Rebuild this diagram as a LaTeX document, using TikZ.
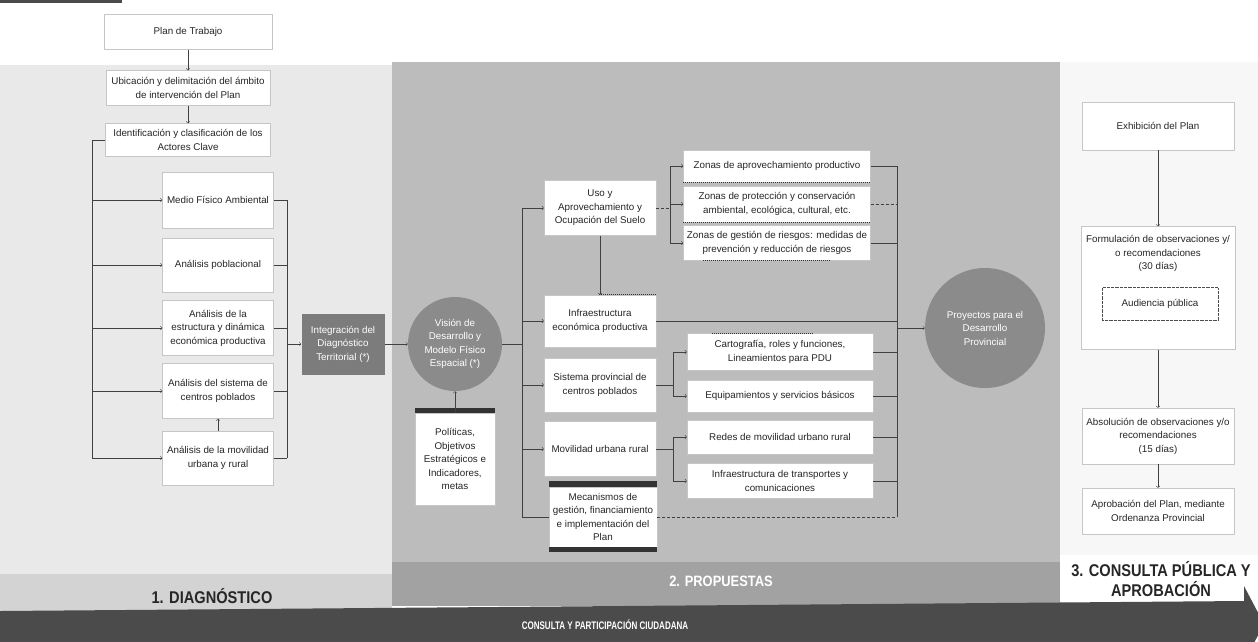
\documentclass[tikz,border=0pt]{standalone}
\usepackage{fontspec}
\setmainfont{Liberation Sans}
\usepackage{xcolor}
\usepackage{tikz}
\usetikzlibrary{positioning}
\definecolor{fondoDiag}{HTML}{E9E9E9}
\definecolor{fondoProp}{HTML}{BCBCBC}
\definecolor{fondoCons}{HTML}{F7F7F7}
\definecolor{bandaDiag}{HTML}{D3D3D3}
\definecolor{bandaProp}{HTML}{A2A2A2}
\definecolor{cajaOscura}{HTML}{7C7C7C}
\definecolor{circuloGris}{HTML}{8B8B8B}
\definecolor{flechaFondo}{HTML}{4B4B4B}
\newcommand\letra{\fontsize{9.8}{13.5}\selectfont}
\newcommand\titular[1]{\fontsize{#1}{#1}\selectfont\bfseries}

\begin{document}
\begin{tikzpicture}[x=1pt, y=-1pt,
	caja/.style={draw=gray!45, line width=0.3pt, fill=white, align=center, inner sep=1pt, text=black!85, font=\letra},
	oscura/.style={fill=cajaOscura, align=center, inner sep=1pt, text=white, font=\letra},
	circulo/.style={circle, fill=circuloGris, align=center, inner sep=1pt, text=white, font=\letra},
	texto/.style={align=center, inner sep=0pt, text=black!85, font=\letra},
	titulo/.style={align=center, inner sep=0pt, xscale=0.86, text=black!85},
	linea/.style={draw=black!75, line width=0.5pt},
	flecha/.style={linea, ->},
	barra/.style={fill=black!80},
	puntos/.style={draw=black!80, line width=1pt, densely dotted}]
	\useasboundingbox (0,0) rectangle (1258,641);
	\clip (0,0) rectangle (1258,641);
	\fill[white] (0,0) rectangle (1258,641);
	\fill[fondoDiag] (0,65) rectangle (392,612);
	\fill[fondoProp] (392,62) rectangle (1060,606);
	\fill[fondoCons] (1060,62) rectangle (1258,604);
	\fill[bandaDiag] (0,574) rectangle (392,612);
	\fill[bandaProp] (392,562) rectangle (1060,606);
	\fill[white] (1060,555) rectangle (1258,604);
	\fill[flechaFondo] (0,0) rectangle (122,3);
	\fill[flechaFondo] (0,611) -- (1244,601) -- (1244,586) -- (1264,624) -- (1244,662) -- (0,662) -- cycle;

	\node[caja, minimum width=168, minimum height=35] (plan) at (188,32) {Plan de Trabajo};
	\node[caja, minimum width=164, minimum height=35] (ubica) at (188,88) {Ubicación y delimitación del ámbito\\de intervención del Plan};
	\node[caja, minimum width=165, minimum height=33] (ident) at (188,140) {Identificación y clasificación de los\\Actores Clave};
	\node[caja, minimum width=111, minimum height=56] (medio) at (218,200) {Medio Físico Ambiental};
	\node[caja, minimum width=111, minimum height=54] (pobla) at (218,265) {Análisis poblacional};
	\node[caja, minimum width=111, minimum height=55] (estru) at (218,328) {Análisis de la\\estructura y dinámica\\económica productiva};
	\node[caja, minimum width=111, minimum height=55] (siste) at (218,391) {Análisis del sistema de\\centros poblados};
	\node[caja, minimum width=111, minimum height=54] (movil) at (218,458) {Análisis de la movilidad\\urbana y rural};
	\node[oscura, minimum width=83, minimum height=61] (integ) at (343,344) {Integración del\\Diagnóstico\\Territorial (*)};
	\node[circulo, minimum size=94] (vision) at (455,344) {Visión de\\Desarrollo y\\Modelo Físico\\Espacial (*)};
	\node[caja, minimum width=80, minimum height=92] (polit) at (455,459) {Políticas,\\Objetivos\\Estratégicos e\\Indicadores,\\metas};

	\node[caja, minimum width=112, minimum height=55] (uso) at (600,208) {Uso y\\Aprovechamiento y\\Ocupación del Suelo};
	\node[caja, minimum width=112, minimum height=52] (infra) at (600,321) {Infraestructura\\económica productiva};
	\node[caja, minimum width=112, minimum height=54] (sistp) at (600,385) {Sistema provincial de\\centros poblados};
	\node[caja, minimum width=112, minimum height=55] (movu) at (600,449) {Movilidad urbana rural};
	\node[caja, minimum width=108, minimum height=60] (meca) at (603,517) {Mecanismos de\\gestión, financiamiento\\e implementación del\\Plan};

	\node[caja, minimum width=187, minimum height=32] (zona1) at (777,166) {Zonas de aprovechamiento productivo};
	\node[caja, minimum width=187, minimum height=36] (zona2) at (777,204) {Zonas de protección y conservación\\ambiental, ecológica, cultural, etc.};
	\node[caja, minimum width=187, minimum height=35] (zona3) at (777,243) {Zonas de gestión de riesgos: medidas de\\prevención y reducción de riesgos};
	\node[caja, minimum width=186, minimum height=37] (carto) at (780,352) {Cartografía, roles y funciones,\\Lineamientos para PDU};
	\node[caja, minimum width=186, minimum height=32] (equip) at (780,396) {Equipamientos y servicios básicos};
	\node[caja, minimum width=186, minimum height=34] (redes) at (780,437) {Redes de movilidad urbano rural};
	\node[caja, minimum width=186, minimum height=35] (transp) at (780,481) {Infraestructura de transportes y\\comunicaciones};
	\node[circulo, minimum size=120] (proy) at (985,328) {Proyectos para el\\Desarrollo\\Provincial};

	\node[caja, minimum width=152, minimum height=48] (exhib) at (1158,126) {Exhibición del Plan};
	\node[caja, minimum width=154, minimum height=123] (formul) at (1158,288) {};
	\node[texto, anchor=north] (formtxt) at ([yshift=-9pt]formul.north) {Formulación de observaciones y/\\o recomendaciones\\(30 días)};
	\node[caja, draw=black!70, densely dotted, minimum width=116, minimum height=33] (audi) at (1160,304) {Audiencia pública};
	\node[caja, minimum width=152, minimum height=56] (absol) at (1158,436) {Absolución de observaciones y/o\\recomendaciones\\(15 días)};
	\node[caja, minimum width=152, minimum height=46] (aprob) at (1158,511) {Aprobación del Plan, mediante\\Ordenanza Provincial};

	\fill[barra] (polit.north west) rectangle ([yshift=5pt]polit.north east);
	\fill[barra] (meca.north west) rectangle ([yshift=6pt]meca.north east);
	\fill[barra] (meca.south west) rectangle ([yshift=-5pt]meca.south east);
	\draw[puntos] (zona1.south west) -- (zona1.south east);
	\draw[puntos] (zona2.south west) -- (zona2.south east);
	\draw[puntos] ([xshift=20pt]zona3.south west) -- ([xshift=-40pt]zona3.south east);
	\draw[puntos] ([xshift=55pt]infra.north west) -- (infra.north east);
	\draw[puntos] ([xshift=25pt]carto.north west) -- ([xshift=-60pt]carto.north east);

	\draw[flecha] (plan) -- (ubica);
	\draw[flecha] (ubica) -- (ident);
	\coordinate (busI) at (92,0);
	\coordinate (busD) at (287,0);
	\draw[linea] (ident.west) -- (busI |- ident.west) -- (busI |- movil.west);
	\foreach \n in {medio,pobla,estru,siste,movil}
		\draw[flecha] (busI |- \n.west) -- (\n.west);
	\foreach \n in {medio,pobla,estru,siste,movil}
		\draw[linea] (\n.east) -- (busD |- \n.east);
	\draw[linea] (busD |- medio.east) -- (busD |- movil.east);
	\draw[flecha] (busD |- integ.west) -- (integ.west);
	\draw[flecha] (movil) -- (siste);
	\draw[flecha] (integ) -- (vision);
	\draw[flecha] (polit) -- (vision);

	\coordinate (busM) at (522,0);
	\draw[linea] (vision.east) -- (busM |- vision.east);
	\draw[linea] (busM |- uso.west) -- (busM |- meca.west) -- (meca.west);
	\foreach \n in {uso,infra,sistp,movu}
		\draw[flecha] (busM |- \n.west) -- (\n.west);
	\draw[flecha] (uso) -- (infra);

	\coordinate (brU) at (670,0);
	\coordinate (brS) at (673,0);
	\draw[linea, densely dashed] (uso.east) -- (brU |- uso.east);
	\draw[linea] (brU |- zona1.west) -- (brU |- zona3.west);
	\foreach \n in {zona1,zona2,zona3}
		\draw[flecha] (brU |- \n.west) -- (\n.west);
	\draw[linea] (sistp.east) -- (brS |- sistp.east);
	\draw[linea] (brS |- carto.west) -- (brS |- equip.west);
	\foreach \n in {carto,equip}
		\draw[flecha] (brS |- \n.west) -- (\n.west);
	\draw[linea] (movu.east) -- (brS |- movu.east);
	\draw[linea] (brS |- redes.west) -- (brS |- transp.west);
	\foreach \n in {redes,transp}
		\draw[flecha] (brS |- \n.west) -- (\n.west);

	\coordinate (busP) at (897,0);
	\foreach \n in {zona1,zona3,infra,carto,equip,redes,transp}
		\draw[linea] (\n.east) -- (busP |- \n.east);
	\draw[linea, densely dashed] (zona2.east) -- (busP |- zona2.east);
	\draw[linea, densely dashed] (meca.east) -- (busP |- meca.east);
	\draw[linea] (busP |- zona1.east) -- (busP |- meca.east);
	\draw[flecha] (busP |- proy.west) -- (proy.west);

	\draw[flecha] (exhib) -- (formul);
	\draw[flecha] (formul) -- (absol);
	\draw[flecha] (absol) -- (aprob);

	\node[titulo, font=\titular{17}] (diag) at (212,596) {1. DIAGNÓSTICO};
	\node[titulo, font=\titular{15}, text=white] (prop) at (721,581) {2. PROPUESTAS};
	\node[titulo, font=\titular{17}, align=center] (cons) at (1161,579) {3. CONSULTA PÚBLICA Y\\[3pt]APROBACIÓN};
	\node[titulo, font=\titular{11}, text=white, xscale=0.85] (ciuda) at (605,625) {CONSULTA Y PARTICIPACIÓN CIUDADANA};
\end{tikzpicture}
\end{document}
